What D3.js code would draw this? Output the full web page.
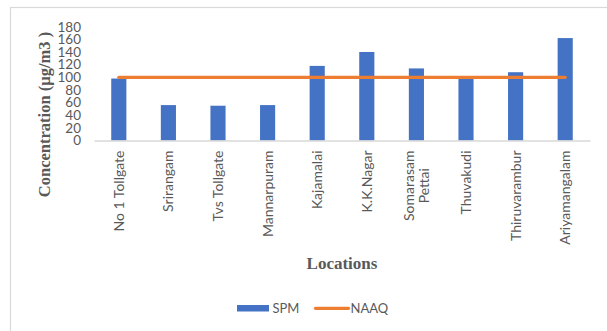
<!DOCTYPE html>
<html>
<head>
<meta charset="utf-8">
<script src="https://cdn.jsdelivr.net/npm/d3@7"></script>
<style>
  html, body { margin: 0; padding: 0; background: #ffffff; }
  svg { display: block; }
</style>
</head>
<body>
<svg id="chart" width="607" height="331"></svg>
<script>
const categories = [
  ["No 1 Tollgate"], ["Srirangam"], ["Tvs Tollgate"], ["Mannarpuram"], ["Kajamalai"],
  ["K.K.Nagar"], ["Somarasam", "Pettai"], ["Thuvakudi"], ["Thiruvarambur"], ["Ariyamangalam"]
];
const spmValues = [98, 56, 55, 56, 118, 140, 114, 98, 108, 162];
const naaqValues = [100, 100, 100, 100, 100, 100, 100, 100, 100, 100];
const yTicks = [0, 20, 40, 60, 80, 100, 120, 140, 160, 180];
const seriesNames = ["SPM", "NAAQ"];

const svg = d3.select("#chart");
const W = 607, H = 331;
const barColor = "#4472C4", lineColor = "#ED7D31", textColor = "#595959";
const sansFont = "Lato, 'Open Sans', 'Liberation Sans', sans-serif";
const serifFont = "'Liberation Serif', 'DejaVu Serif', serif";

svg.append("rect").attr("width", W).attr("height", H).attr("fill", "#fff");
// chart border
svg.append("rect")
  .attr("x", 10.5).attr("y", 7.5).attr("width", 640).attr("height", 360)
  .attr("fill", "none").attr("stroke", "#d9d9d9").attr("stroke-width", 1.2);

const labels = categories.map(c => c.join(" "));
const x = d3.scaleBand().domain(labels).range([94, 590]).padding(0);
const y = d3.scaleLinear().domain([0, 180]).range([140.5, 26.7]);
const barW = x.bandwidth() * 0.305;

// y tick labels
const yAxis = d3.axisLeft(y).tickValues(yTicks).tickSize(0).tickPadding(0);
const yg = svg.append("g").attr("transform", "translate(81,0)").call(yAxis);
yg.select(".domain").remove();
yg.selectAll("text")
  .attr("fill", textColor)
  .style("font-family", sansFont)
  .style("font-size", "13.5px");

// bars
svg.append("g").selectAll("rect")
  .data(spmValues)
  .join("rect")
  .attr("x", (d, i) => x(labels[i]) + x.bandwidth() / 2 - barW / 2)
  .attr("y", d => y(d))
  .attr("width", barW)
  .attr("height", d => y(0) - y(d))
  .attr("fill", barColor);

// baseline axis
const xAxis = d3.axisBottom(x).tickSize(0).tickFormat("");
const xg = svg.append("g").attr("transform", `translate(0,${y(0)})`).call(xAxis);
xg.select(".domain").attr("stroke", "#d9d9d9").attr("stroke-width", 1.5);

// NAAQ line
const line = d3.line()
  .x((d, i) => x(labels[i]) + x.bandwidth() / 2)
  .y(d => y(d));
svg.append("path")
  .datum(naaqValues)
  .attr("d", line)
  .attr("fill", "none")
  .attr("stroke", lineColor)
  .attr("stroke-width", 3.2)
  .attr("stroke-linecap", "round");

// category labels (rotated)
const topY = 150.5;
const lh = 15;
const catFont = "14px";
categories.forEach((lines, i) => {
  const cx = x(labels[i]) + x.bandwidth() / 2;
  const g = svg.append("g");
  if (lines.length === 1) {
    g.append("text")
      .attr("transform", `translate(${cx},${topY}) rotate(-90)`)
      .attr("text-anchor", "end")
      .attr("dy", "0.35em")
      .attr("fill", textColor)
      .style("font-family", sansFont)
      .style("font-size", catFont)
      .text(lines[0]);
  } else {
    const tmp = g.append("text").style("font-family", sansFont).style("font-size", catFont);
    let maxW = 0;
    lines.forEach(l => { tmp.text(l); maxW = Math.max(maxW, tmp.node().getComputedTextLength()); });
    tmp.remove();
    const t = g.append("text")
      .attr("transform", `translate(${cx},${topY + maxW / 2}) rotate(-90)`)
      .attr("text-anchor", "middle")
      .attr("fill", textColor)
      .style("font-family", sansFont)
      .style("font-size", catFont);
    lines.forEach((l, k) => {
      t.append("tspan")
        .attr("x", 0)
        .attr("y", (k - (lines.length - 1) / 2) * lh)
        .attr("dy", "0.35em")
        .text(l);
    });
  }
});

// axis titles
svg.append("text")
  .attr("transform", `translate(44,${114.5}) rotate(-90)`)
  .attr("text-anchor", "middle")
  .attr("dy", "0.35em")
  .attr("fill", textColor)
  .style("font-family", serifFont)
  .style("font-weight", "bold")
  .style("font-size", "16.5px")
  .text("Concentration (µg/m3 )");

svg.append("text")
  .attr("x", 342).attr("y", 263)
  .attr("text-anchor", "middle")
  .attr("dy", "0.35em")
  .attr("fill", textColor)
  .style("font-family", serifFont)
  .style("font-weight", "bold")
  .style("font-size", "17px")
  .text("Locations");

// legend
const lg = svg.append("g");
lg.append("rect")
  .attr("x", 237).attr("y", 305).attr("width", 32).attr("height", 6.5)
  .attr("fill", barColor);
lg.append("text")
  .attr("x", 272.5).attr("y", 308.3).attr("dy", "0.35em")
  .attr("fill", textColor)
  .style("font-family", sansFont).style("font-size", "13px")
  .text(seriesNames[0]);
lg.append("line")
  .attr("x1", 315.5).attr("x2", 348.5).attr("y1", 308.3).attr("y2", 308.3)
  .attr("stroke", lineColor).attr("stroke-width", 3.2).attr("stroke-linecap", "round");
lg.append("text")
  .attr("x", 350.5).attr("y", 308.3).attr("dy", "0.35em")
  .attr("fill", textColor)
  .style("font-family", sansFont).style("font-size", "13px")
  .text(seriesNames[1]);
</script>
</body>
</html>
